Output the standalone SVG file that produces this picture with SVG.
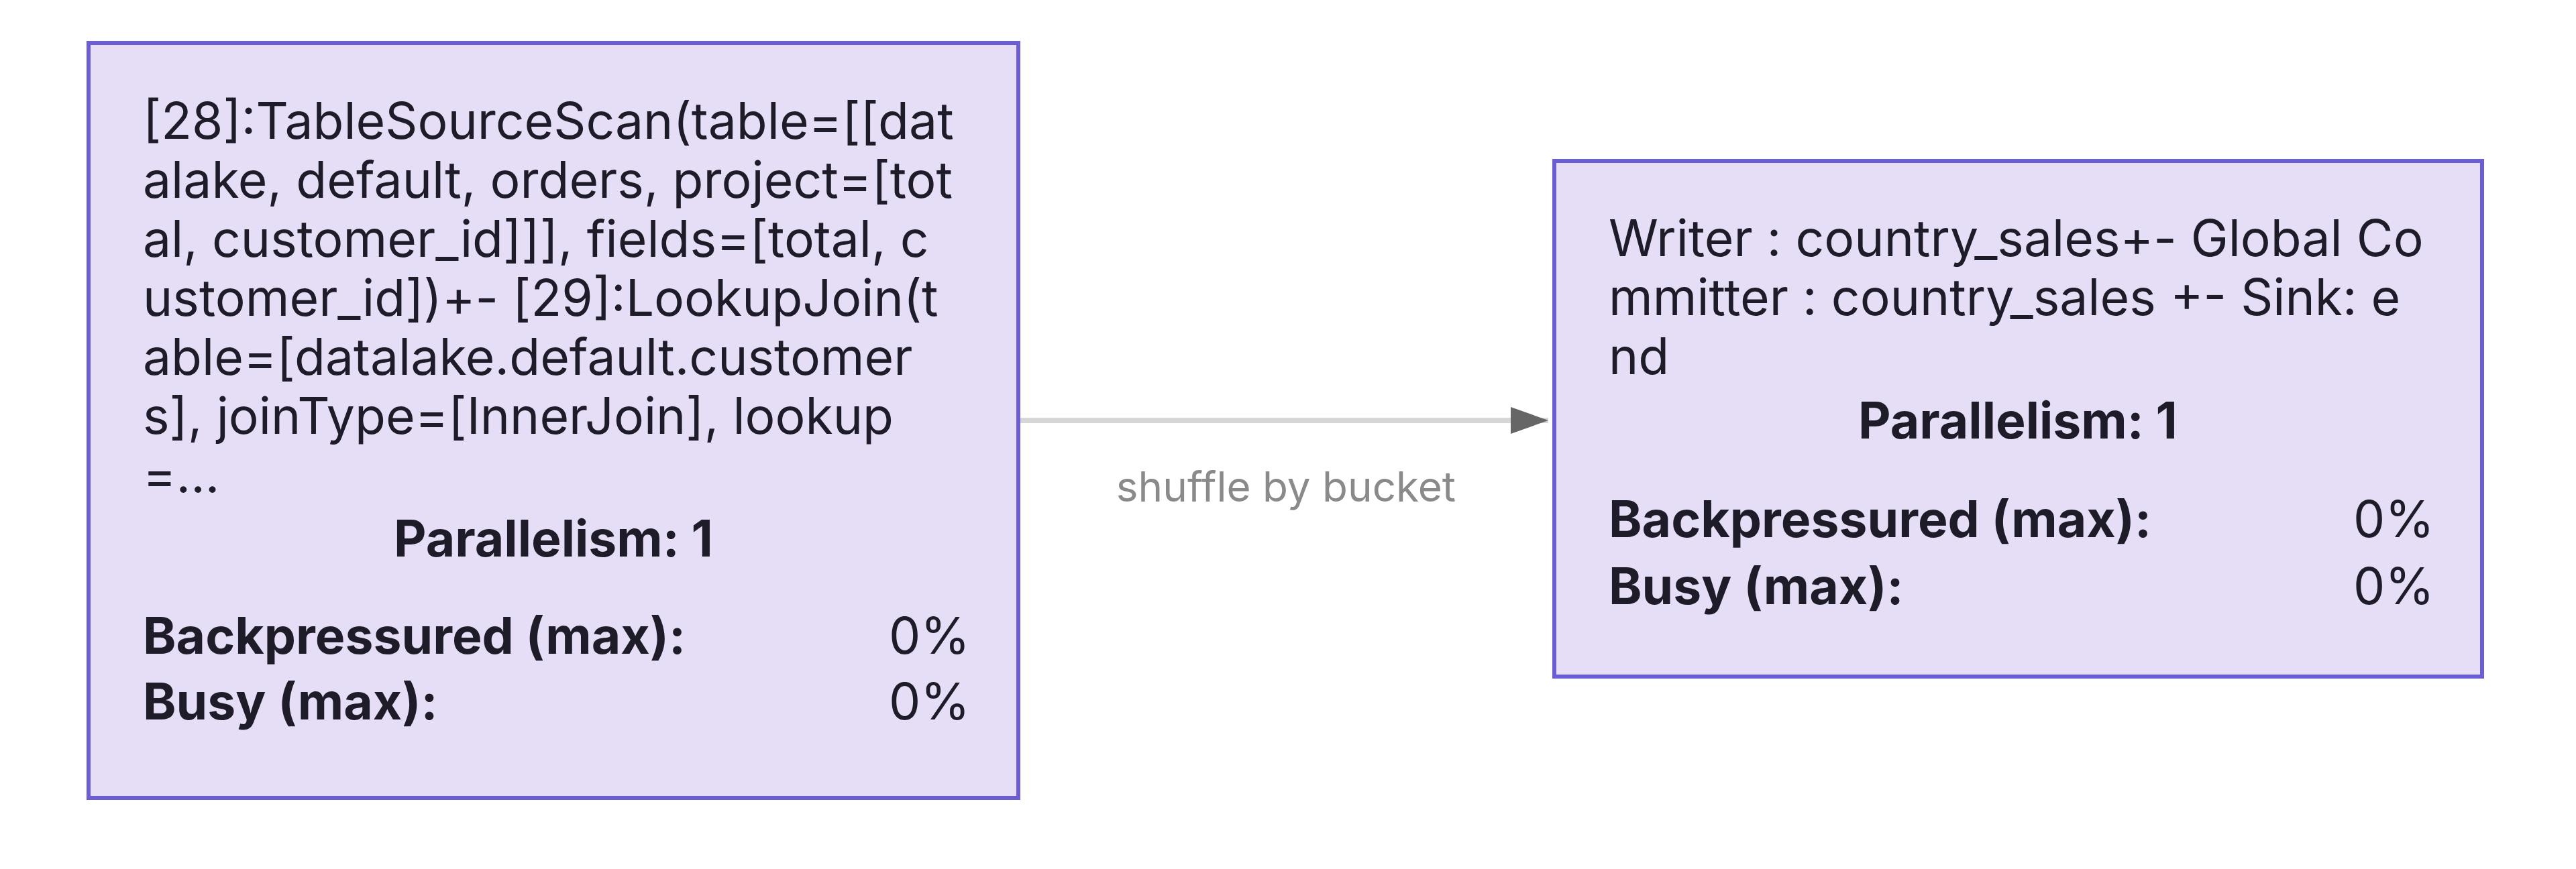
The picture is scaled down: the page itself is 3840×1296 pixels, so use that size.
<svg xmlns="http://www.w3.org/2000/svg" width="3840" height="1296" viewBox="0 0 3840 1296">
<defs>
<style>
.node rect{fill:#e6ddf6;stroke:#6b5dd3;stroke-width:6}
.t{font-family:Inter,"Liberation Sans",sans-serif;font-size:75px;fill:#1e1c28}
.b{font-weight:bold}
.c{text-anchor:middle}
.r{text-anchor:end}
.edge{stroke:#d6d6d6;stroke-width:8;fill:none}
.elabel{font-family:Inter,"Liberation Sans",sans-serif;font-size:62px;fill:#8a8a8a;text-anchor:middle}
</style>
<marker id="arrow" markerUnits="userSpaceOnUse" markerWidth="56" markerHeight="40" refX="56" refY="20" orient="auto">
<path d="M0,0 L56,20 L0,40 Z" fill="#666666"/>
</marker>
</defs>
<rect width="3840" height="1296" fill="#ffffff"/>
<g id="connectors">
<line class="edge" x1="1521" y1="627" x2="2308" y2="627" marker-end="url(#arrow)"/>
<text class="elabel" x="1917" y="748">shuffle by bucket</text>
</g>
<g id="node-source" class="node">
<rect x="132" y="64" width="1386" height="1126"/>
<text class="t" x="213" y="207">[28]:TableSourceScan(table=[[dat</text>
<text class="t" x="213" y="295">alake, default, orders, project=[tot</text>
<text class="t" x="213" y="383">al, customer_id]]], fields=[total, c</text>
<text class="t" x="213" y="471">ustomer_id])+- [29]:LookupJoin(t</text>
<text class="t" x="213" y="559">able=[datalake.default.customer</text>
<text class="t" x="213" y="647">s], joinType=[InnerJoin], lookup</text>
<text class="t" x="213" y="735">=...</text>
<text class="t b c" x="825" y="830">Parallelism: 1</text>
<text class="t b" x="213" y="975">Backpressured (max):</text>
<text class="t r" x="1446" y="975">0%</text>
<text class="t b" x="213" y="1073">Busy (max):</text>
<text class="t r" x="1446" y="1073">0%</text>
</g>
<g id="node-sink" class="node">
<rect x="2317" y="240" width="1383" height="769"/>
<text class="t" x="2398" y="382">Writer : country_sales+- Global Co</text>
<text class="t" x="2398" y="470">mmitter : country_sales +- Sink: e</text>
<text class="t" x="2398" y="558">nd</text>
<text class="t b c" x="3008" y="654">Parallelism: 1</text>
<text class="t b" x="2398" y="801">Backpressured (max):</text>
<text class="t r" x="3629" y="801">0%</text>
<text class="t b" x="2398" y="901">Busy (max):</text>
<text class="t r" x="3629" y="901">0%</text>
</g>
</svg>
